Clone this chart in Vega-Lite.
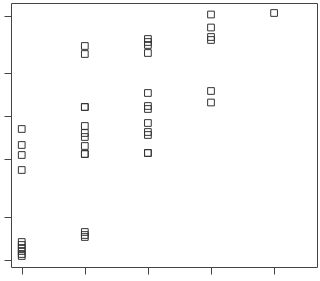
{
  "$schema": "https://vega.github.io/schema/vega-lite/v6.json",
  "width": 306,
  "height": 264,
  "autosize": {"type": "none"},
  "padding": {"left": 11, "top": 3, "right": 3, "bottom": 14},
  "background": "white",
  "config": {"view": {"stroke": "#444", "strokeWidth": 1}},
  "data": {"values": [
    {"x": 1, "y": 131}, {"x": 1, "y": 115}, {"x": 1, "y": 105}, {"x": 1, "y": 90},
    {"x": 1, "y": 18}, {"x": 1, "y": 15}, {"x": 1, "y": 12}, {"x": 1, "y": 9}, {"x": 1, "y": 6}, {"x": 1, "y": 4},
    {"x": 2, "y": 214}, {"x": 2, "y": 206}, {"x": 2, "y": 153}, {"x": 2, "y": 153}, {"x": 2, "y": 134},
    {"x": 2, "y": 127}, {"x": 2, "y": 123}, {"x": 2, "y": 114}, {"x": 2, "y": 106}, {"x": 2, "y": 106},
    {"x": 2, "y": 28}, {"x": 2, "y": 25}, {"x": 2, "y": 23},
    {"x": 3, "y": 221}, {"x": 3, "y": 218}, {"x": 3, "y": 215}, {"x": 3, "y": 207}, {"x": 3, "y": 167},
    {"x": 3, "y": 154}, {"x": 3, "y": 151}, {"x": 3, "y": 137}, {"x": 3, "y": 128}, {"x": 3, "y": 125},
    {"x": 3, "y": 107}, {"x": 3, "y": 107},
    {"x": 4, "y": 245.5}, {"x": 4, "y": 232.5}, {"x": 4, "y": 223}, {"x": 4, "y": 220}, {"x": 4, "y": 169}, {"x": 4, "y": 157.5},
    {"x": 5, "y": 247}
  ]},
  "mark": {"type": "point", "shape": "square", "filled": false, "size": 45, "stroke": "#333", "strokeWidth": 1, "opacity": 1},
  "encoding": {
    "x": {
      "field": "x", "type": "quantitative",
      "scale": {"domain": [0.83, 5.68], "nice": false, "zero": false},
      "axis": {"title": null, "labels": false, "domain": false, "grid": false, "values": [1, 2, 3, 4, 5], "tickSize": 7, "tickColor": "#444", "tickWidth": 1}
    },
    "y": {
      "field": "y", "type": "quantitative",
      "scale": {"domain": [-7, 257], "nice": false, "zero": false},
      "axis": {"title": null, "labels": false, "domain": false, "grid": false, "values": [0, 42.7, 100.7, 144, 187, 244.3], "tickSize": 7, "tickColor": "#444", "tickWidth": 1}
    }
  }
}
